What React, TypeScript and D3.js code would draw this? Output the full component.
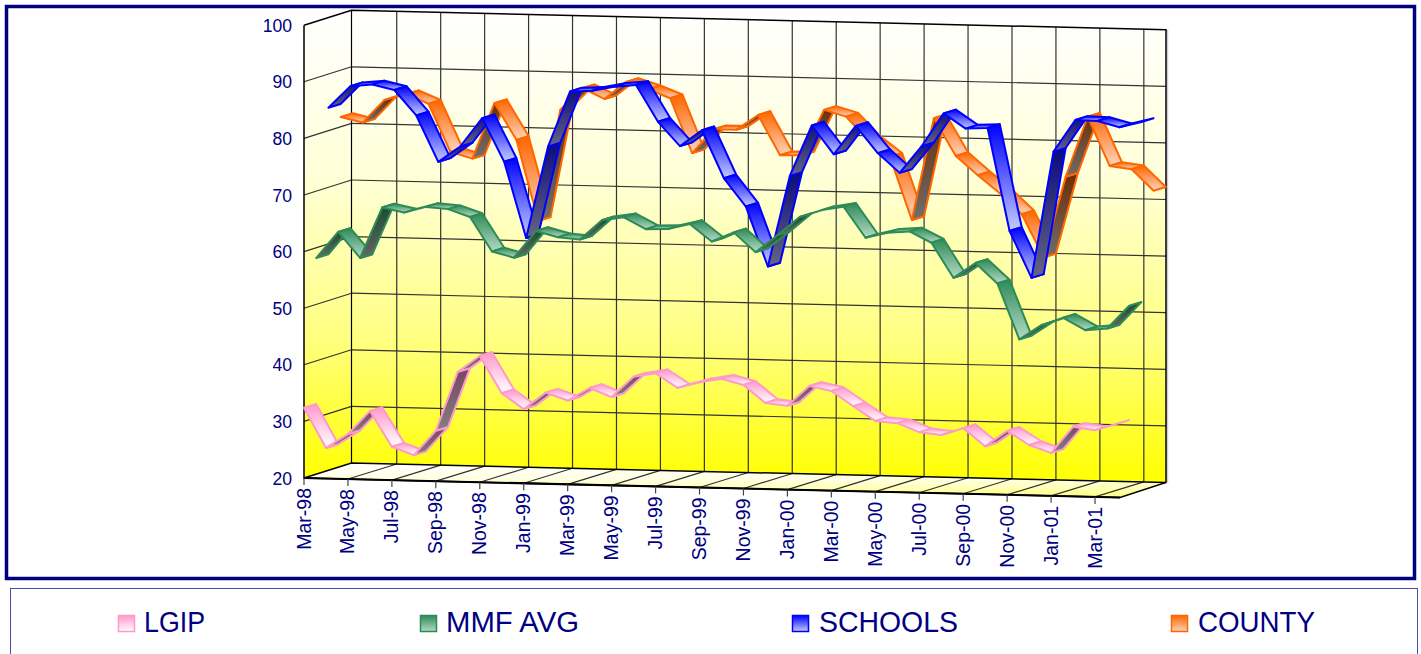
import React from "react";
import * as d3 from "d3";

const months = ["Mar-98","Apr-98","May-98","Jun-98","Jul-98","Aug-98","Sep-98","Oct-98","Nov-98","Dec-98","Jan-99","Feb-99","Mar-99","Apr-99","May-99","Jun-99","Jul-99","Aug-99","Sep-99","Oct-99","Nov-99","Dec-99","Jan-00","Feb-00","Mar-00","Apr-00","May-00","Jun-00","Jul-00","Aug-00","Sep-00","Oct-00","Nov-00","Dec-00","Jan-01","Feb-01","Mar-01","Apr-01"];
const lgip = [32.4,25.4,27.95,32.1,25.9,24.5,28.9,39.4,42.3,35.8,33.1,36.1,34.8,37.1,35.6,39.3,40,37.5,38.6,39.3,38.3,35.2,34.8,38.4,37.6,35,32.5,32.2,30.7,30.3,31.6,28.5,31.3,28.9,27.6,32.3,31.8,33];
const mmfAvg = [58.2,62.9,58.4,67.4,66.6,67.7,67.4,66.1,60.1,59.1,63.9,62.9,62.6,66.1,66.7,64.7,64.8,65.8,62.8,64.5,61.1,64.2,67.5,68.8,69.5,64.1,65.1,65.4,63.5,57.4,60.1,56.6,46.8,49.4,50.8,48.7,49.1,53.2];
const schools = [84.1,88,88.4,87.5,83.1,75,77.8,82.9,75.3,61.9,78.2,88,88.2,89,89.4,83,78.8,81.7,73.3,68.4,57.9,74,83,78,83.1,78.4,75,79.8,85.7,83.1,83.3,65.2,57,79.4,85.1,85,84,85];
const county = [81.8,80.9,85,86.1,84.5,76.1,75,84.9,78.5,64.3,84,87.9,86.1,89.2,88,86.5,76.9,81.2,81.2,83.9,76.9,77,85.1,84,80,77.1,66,84.1,77.5,74.2,71.1,67.5,60,74.3,85,76.4,75.9,72.2];
const seriesNames = ["LGIP","MMF AVG","SCHOOLS","COUNTY"];
const seriesValues = [lgip, mmfAvg, schools, county];
const strokeColors = ["#ff99cc","#2e8b57","#0000ff","#ff6600"];
const topStops = [["#ff99cc","#ffffff"],["#2e8b57","#b4dac6"],["#0000ff","#c4ccff"],["#ff6600","#ffd4bc"]];
const underStops = [["#7a4560","#808080"],["#174a2c","#666666"],["#0a0a80","#666680"],["#6e2c00","#6e6e6e"]];
const legendSwatchX = [118,420,792,1171];
const legendTextX = [144,446,819,1198];
const legendTextWidth = [61,133,139,117];
const yTicks = [20,30,40,50,60,70,80,90,100];

const W = 1421, H = 654;
const X0 = 304, Y20 = 478, Y100 = 25.2, DX = 48.8, DY = -15, SPAN = 815, SKEW = 19.5;
const slots = months.length; // 38 positions along the front edge
const xIdx = d3.scaleLinear().domain([0, slots - 1]).range([0, 813]);
const yVal = d3.scaleLinear().domain([20, 100]).range([Y20, Y100]);
const px = (i: number, z: number) => X0 + xIdx(i) + DX * z;
const py = (v: number, i: number, z: number) => yVal(v) + (xIdx(i) * SKEW) / SPAN + DY * z;
const line = d3.line();
const poly = (pts: [number, number][]) => line(pts) + "Z";

const NAVY = "#000080";
const font = "'Liberation Sans', Arial, sans-serif";

export default function App() {
  const xEnd = SPAN;
  const wallBL: [number, number] = [X0 + 47.5, Y20 + DY];
  const wallBR: [number, number] = [1166, Y20 + DY + SKEW];
  const wallTL: [number, number] = [X0 + 47.5, Y100 + DY];
  const wallTR: [number, number] = [1166, Y100 + DY + SKEW];
  const frontBL: [number, number] = [X0, Y20];
  const frontBR: [number, number] = [X0 + xEnd + 1, Y20 + SKEW];
  const frontTL: [number, number] = [X0, Y100];
  const tickIdx = d3.range(0, slots, 2);

  return (
    <svg width={W} height={H} viewBox={`0 0 ${W} ${H}`} style={{ position: "fixed", left: 0, top: 0, display: "block", background: "#fff" }}>
      <defs>
        <linearGradient id="wall" x1="0" y1="0" x2="0" y2="1">
          <stop offset="0" stopColor="#ffffff" />
          <stop offset="0.35" stopColor="#ffffd8" />
          <stop offset="0.7" stopColor="#ffff80" />
          <stop offset="1" stopColor="#ffff00" />
        </linearGradient>
        <linearGradient id="floor" x1="0" y1="0" x2="0" y2="1">
          <stop offset="0" stopColor="#ffffff" />
          <stop offset="0.5" stopColor="#ffffe0" />
          <stop offset="1" stopColor="#ffff80" />
        </linearGradient>
        {seriesNames.map((_, k) => (
          <React.Fragment key={k}>
            <linearGradient id={`top${k}`} x1="0" y1="0" x2="0" y2="1">
              <stop offset="0" stopColor={topStops[k][0]} />
              <stop offset="1" stopColor={topStops[k][1]} />
            </linearGradient>
            <linearGradient id={`under${k}`} x1="0" y1="0" x2="0" y2="1">
              <stop offset="0" stopColor={underStops[k][0]} />
              <stop offset="1" stopColor={underStops[k][1]} />
            </linearGradient>
          </React.Fragment>
        ))}
      </defs>

      <rect x={6.5} y={6.5} width={1408} height={572} fill="#fff" stroke={NAVY} strokeWidth={3.5} />
      <rect x={10.5} y={588.5} width={1407} height={70} fill="#fff" stroke="#4a4aa8" strokeWidth={1} />

      {/* walls */}
      <path d={poly([wallTL, wallTR, wallBR, wallBL])} fill="url(#wall)" />
      <path d={poly([frontTL, wallTL, wallBL, frontBL])} fill="url(#wall)" />
      <path d={poly([frontBL, wallBL, wallBR, frontBR])} fill="url(#floor)" />
      <line x1={wallTR[0] + 1.5} y1={wallTR[1]} x2={wallBR[0] + 1.5} y2={wallBR[1]} stroke="#ccccdd" strokeWidth={1.5} />

      {/* grid */}
      {yTicks.map((t) => (
        <g key={t} stroke="#333" strokeWidth={1.2} fill="none">
          {t !== 20 && t !== 100 && <line x1={wallTL[0]} y1={yVal(t) + DY} x2={wallTR[0]} y2={yVal(t) + DY + SKEW} />}
          {t !== 20 && t !== 100 && <line x1={X0} y1={yVal(t)} x2={wallTL[0]} y2={yVal(t) + DY} />}
        </g>
      ))}
      {tickIdx.slice(1).map((i) => (
        <g key={i} stroke="#333" strokeWidth={1.2}>
          <line x1={px(i, 1)} y1={py(100, i, 1)} x2={px(i, 1)} y2={py(20, i, 1)} />
          <line x1={px(i, 0)} y1={py(20, i, 0)} x2={px(i, 1)} y2={py(20, i, 1)} />
        </g>
      ))}
      <g stroke="#000" fill="none">
        <path d={line([frontTL, wallTL, wallTR, wallBR, frontBR, frontBL, frontTL])!} strokeWidth={1.5} />
        <line x1={wallTL[0]} y1={wallTL[1]} x2={wallBL[0]} y2={wallBL[1]} strokeWidth={1.2} />
        <path d={line([frontBL, wallBL, wallBR])!} strokeWidth={1.5} />
        <line x1={frontBL[0]} y1={frontBL[1]} x2={frontBR[0]} y2={frontBR[1]} strokeWidth={2} />
      </g>

      {/* ribbons, back series first */}
      {[3, 2, 1, 0].map((k) => {
        const vals = seriesValues[k];
        const z0 = k / 4, z1 = (k + 1) / 4;
        return (
          <g key={k} stroke={strokeColors[k]} strokeWidth={2} strokeLinejoin="round">
            {d3.range(vals.length - 1).map((i) => {
              const a: [number, number] = [px(i, z0), py(vals[i], i, z0)];
              const b: [number, number] = [px(i + 1, z0), py(vals[i + 1], i + 1, z0)];
              const c: [number, number] = [px(i + 1, z1), py(vals[i + 1], i + 1, z1)];
              const d: [number, number] = [px(i, z1), py(vals[i], i, z1)];
              const cross = (b[0] - a[0]) * (d[1] - a[1]) - (b[1] - a[1]) * (d[0] - a[0]);
              return <path key={i} d={poly([a, b, c, d])} fill={`url(#${cross > 0 ? "under" : "top"}${k})`} />;
            })}
          </g>
        );
      })}

      {/* axes */}
      <g fontFamily={font} fill={NAVY}>
        {yTicks.map((t) => (
          <text key={t} x={292} y={yVal(t) + 6.5} textAnchor="end" fontSize={17.6}>{t}</text>
        ))}
        {tickIdx.map((i) => {
          const x = px(i, 0), y = py(20, i, 0);
          return (
            <g key={i}>
              <line x1={x} y1={y} x2={x} y2={y + 7} stroke="#444" strokeWidth={1.2} />
              <text transform={`translate(${x + 6.5},${y + 10}) rotate(-90)`} textAnchor="end" fontSize={19.5}>{months[i]}</text>
            </g>
          );
        })}
      </g>

      {/* legend */}
      {seriesNames.map((n, k) => (
        <g key={n}>
          <rect x={legendSwatchX[k] + 0.5} y={615.5} width={16} height={16} fill={`url(#top${k})`} stroke={strokeColors[k]} strokeWidth={1.5} />
          <text x={legendTextX[k]} y={632} fontFamily={font} fontSize={30} fill={NAVY} textLength={legendTextWidth[k]} lengthAdjust="spacingAndGlyphs">{n}</text>
        </g>
      ))}
    </svg>
  );
}
